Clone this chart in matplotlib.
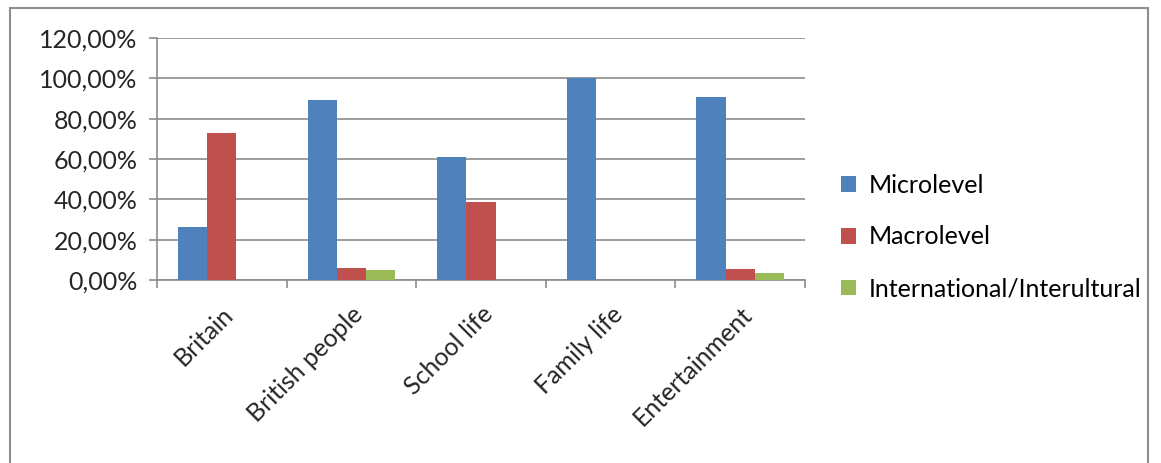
import matplotlib.pyplot as plt
import numpy as np
from matplotlib.patches import Rectangle

categories = ["Britain", "British people", "School life", "Family life", "Entertainment"]
microlevel = [26.3, 89.2, 60.8, 100.0, 90.7]
macrolevel = [72.9, 6.0, 38.5, 0.0, 5.3]
international = [0.0, 4.8, 0.0, 0.0, 3.5]

series = {
    "Microlevel": (microlevel, "#4f81bd"),
    "Macrolevel": (macrolevel, "#c0504d"),
    "International/Interultural": (international, "#9bbb59"),
}

plt.rcParams["font.family"] = ["Lato", "DejaVu Sans"]
fs = 18

W, H = 1161, 463
fig = plt.figure(figsize=(W / 100, H / 100), dpi=100)
ax = fig.add_axes([157 / W, 1 - 280 / H, (805 - 157) / W, (280 - 38) / H])

x = np.arange(len(categories))
width = 0.225
for i, (name, (vals, color)) in enumerate(series.items()):
    ax.bar(x + (i - 1) * width, vals, width, color=color, label=name, zorder=3)

ax.set_xlim(-0.5, len(categories) - 0.5)
ax.set_ylim(0, 120)
ax.set_yticks(np.arange(0, 121, 20))
ax.set_yticklabels([f"{v},00%" for v in range(0, 121, 20)], fontsize=fs, color="#262626")
ax.yaxis.grid(True, color="#8c8c8c", linewidth=1.2, zorder=0)

ax.set_xticks(np.arange(-0.5, len(categories)), minor=False)
ax.set_xticklabels([])
ax.set_xticks(x, minor=True)
ax.set_xticklabels(categories, minor=True, rotation=45, ha="right", rotation_mode="anchor",
                   fontsize=fs, color="#262626")
ax.tick_params(axis="x", which="minor", length=0, pad=16)
ax.tick_params(axis="x", which="major", length=6, color="#8c8c8c", width=1.2)
ax.tick_params(axis="y", length=6, color="#8c8c8c", width=1.2, pad=8)

for s in ["top", "right"]:
    ax.spines[s].set_visible(False)
for s in ["left", "bottom"]:
    ax.spines[s].set_color("#8c8c8c")
    ax.spines[s].set_linewidth(1.2)

ax.legend(loc="center left", bbox_to_anchor=(841 / W, 1 - 237 / H), bbox_transform=fig.transFigure,
          frameon=False, fontsize=fs, handlelength=0.6, handleheight=0.6, handletextpad=0.5,
          labelspacing=1.15, borderaxespad=0, borderpad=0)

fig.patches.append(Rectangle((10 / W, -0.01), (1148 - 10) / W, 1 - 8 / H + 0.01,
                             transform=fig.transFigure, fill=False, edgecolor="#8c8c8c",
                             linewidth=1.5))

fig.savefig("out.png", dpi=100)
